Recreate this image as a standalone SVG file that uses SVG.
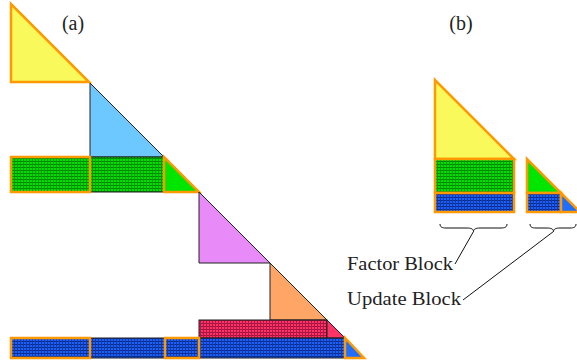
<svg xmlns="http://www.w3.org/2000/svg" width="577" height="364" viewBox="0 0 577 364">
<style>
.lbl{font-family:"Liberation Serif","DejaVu Serif",serif;fill:#222}
.fb{stroke:#FF9900;stroke-width:2.5;stroke-linejoin:miter}
.th{stroke:#222;stroke-width:1}
.con{fill:none;stroke:#111;stroke-width:1}
</style>
<defs>
<pattern id="pg" patternUnits="userSpaceOnUse" width="3" height="3">
<rect width="3" height="3" fill="#00E000"/>
<rect x="0" y="2" width="3" height="1" fill="#008800"/>
<rect x="2" y="0" width="1" height="3" fill="#009900"/>
</pattern>
<pattern id="pr" patternUnits="userSpaceOnUse" width="3" height="3">
<rect width="3" height="3" fill="#FF3366"/>
<rect x="0" y="2" width="3" height="1" fill="#A01540"/>
<rect x="2" y="0" width="1" height="3" fill="#B01848"/>
</pattern>
<pattern id="pb" patternUnits="userSpaceOnUse" width="3" height="3">
<rect width="3" height="3" fill="#1E60F5"/>
<rect x="0" y="2" width="3" height="1" fill="#0A2A90"/>
<rect x="2" y="0" width="1" height="3" fill="#103AA8"/>
</pattern>
</defs>
<rect width="577" height="364" fill="#fff"/>

<text class="lbl" x="73" y="30" font-size="20" text-anchor="middle">(a)</text>
<text class="lbl" x="461" y="30" font-size="20" text-anchor="middle">(b)</text>

<g id="a-yellow"><polygon class="fb" points="11,4 11,82 89,82" fill="#F9F95C"/></g>
<g id="a-blue-tri"><polygon class="th" points="90,83 90,157 164,157" fill="#6CC8FF"/></g>
<g id="a-green-row">
<rect class="th" x="90" y="157" width="74" height="35" fill="url(#pg)"/>
<rect class="fb" x="11" y="157" width="79" height="35" fill="url(#pg)"/>
<polygon class="fb" points="164,157 164,192 199,192" fill="#00E600"/>
</g>
<g id="a-purple"><polygon class="th" points="199,192 199,263 270,263" fill="#E88AF8"/></g>
<g id="a-orange"><polygon class="th" points="270,263 270,320 327,320" fill="#FFA566"/></g>
<g id="a-red-row">
<rect class="th" x="199" y="320" width="128" height="18" fill="url(#pr)"/>
<polygon class="th" points="327,320 327,338 345,338" fill="#FF3366"/>
</g>
<g id="a-blue-row">
<rect class="th" x="90" y="338" width="75" height="20" fill="url(#pb)"/>
<rect class="th" x="199" y="338" width="146" height="20" fill="url(#pb)"/>
<rect class="fb" x="11" y="338" width="79" height="20" fill="url(#pb)"/>
<rect class="fb" x="165" y="338" width="34" height="20" fill="url(#pb)"/>
<polygon class="fb" points="345,338 345,358 364,358" fill="#1E6EFF"/>
</g>

<g id="b-factor">
<polygon class="fb" points="435,80 435,159 514,159" fill="#F9F95C"/>
<rect class="fb" x="435" y="159" width="79" height="34" fill="url(#pg)"/>
<rect class="fb" x="435" y="193" width="79" height="19" fill="url(#pb)"/>
</g>
<g id="b-update">
<polygon class="fb" points="527,159 527,193 561,193" fill="#00E600"/>
<rect class="fb" x="527" y="193" width="34" height="19" fill="url(#pb)"/>
<polygon class="fb" points="561,193 561,212 580,212" fill="#1E6EFF"/>
</g>

<g id="braces">
<path class="con" d="M440,224 C440,227 442,228 446,228 L467,228 C471,228 473.5,229 473.5,231.5 C473.5,229 476,228 480,228 L501,228 C505,228 507,227 507,224"/>
<path class="con" d="M530,224 C530,227 532,228 536,228 L547,228 C551,228 553.5,229 553.5,231.5 C553.5,229 556,228 560,228 L570,228 C574,228 576,227 576,224"/>
</g>
<g id="connectors">
<line class="con" x1="473.5" y1="231.5" x2="455" y2="264"/>
<line class="con" x1="553.5" y1="231.5" x2="463" y2="300"/>
</g>
<g id="labels">
<text class="lbl" x="347" y="270" font-size="18.5" textLength="106" lengthAdjust="spacingAndGlyphs">Factor Block</text>
<text class="lbl" x="347" y="305" font-size="18.5" textLength="114" lengthAdjust="spacingAndGlyphs">Update Block</text>
</g>
</svg>
